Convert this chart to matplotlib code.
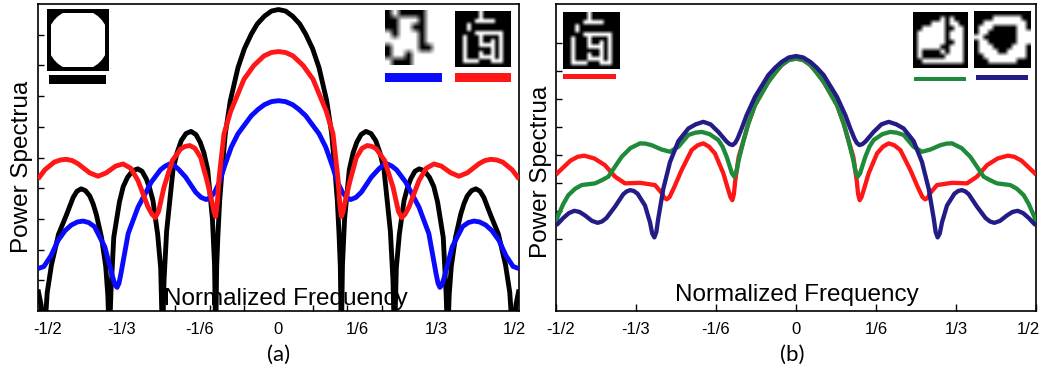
import matplotlib.pyplot as plt
import numpy as np
from matplotlib.patches import Circle, Rectangle
from matplotlib.transforms import ScaledTranslation

W, H = 1043, 368

# ---- panel (a): normalized frequency / power spectrum (tick units) ----
freq_a_black_l = [-0.5095, -0.503, -0.4968, -0.490, -0.481, -0.466, -0.450, -0.435, -0.427, -0.418,
                  -0.409, -0.400, -0.393, -0.386, -0.375, -0.366, -0.3615, -0.3585, -0.355, -0.349,
                  -0.337, -0.329, -0.320, -0.309, -0.298, -0.289, -0.280, -0.273, -0.266, -0.256,
                  -0.2496, -0.2457, -0.2425, -0.237, -0.2235, -0.215, -0.206, -0.196, -0.1854, -0.175,
                  -0.166, -0.158, -0.150, -0.140, -0.1355, -0.1331, -0.131, -0.1282, -0.1246, -0.119,
                  -0.1127, -0.1021, -0.0858, -0.0721, -0.0576, -0.045, -0.030, -0.015, 0.0]
power_a_black_l = [0.7, 0.2, -1, 0.6, 1.5, 2.5, 3.1, 3.7, 3.9, 3.98,
                   3.92, 3.75, 3.5, 3.15, 2.4, 1.45, 0.5, -1, 0.6, 2.4,
                   3.55, 4.05, 4.35, 4.57, 4.63, 4.55, 4.3, 4.0, 3.6, 2.5,
                   1.4, -1, 1.0, 2.6, 4.6, 5.15, 5.55, 5.78, 5.85, 5.75,
                   5.5, 5.15, 4.6, 3.0, 1.5, -1, 1.44, 2.52, 3.6, 4.69,
                   5.77, 6.85, 7.93, 8.55, 9.02, 9.35, 9.6, 9.77, 9.82]
freq_a_black_r = [0.015, 0.030, 0.045, 0.0576, 0.0721, 0.0858, 0.1021, 0.1127, 0.119, 0.1246,
                  0.1282, 0.131, 0.1331, 0.1355, 0.140, 0.150, 0.158, 0.166, 0.175, 0.1854,
                  0.196, 0.206, 0.215, 0.2235, 0.237, 0.2425, 0.2457, 0.2496, 0.256, 0.266,
                  0.273, 0.280, 0.289, 0.298, 0.309, 0.320, 0.329, 0.337, 0.349, 0.355,
                  0.3585, 0.3615, 0.366, 0.375, 0.386, 0.393, 0.400, 0.409, 0.418, 0.427,
                  0.435, 0.450, 0.466, 0.481, 0.490, 0.4968, 0.503, 0.5095]
power_a_black_r = [9.77, 9.6, 9.35, 9.02, 8.55, 7.93, 6.85, 5.77, 4.69, 3.6,
                   2.52, 1.44, -1, 1.5, 3.0, 4.6, 5.15, 5.5, 5.75, 5.85,
                   5.78, 5.55, 5.15, 4.6, 2.6, 1.0, -1, 1.4, 2.5, 3.6,
                   4.0, 4.3, 4.55, 4.63, 4.57, 4.35, 4.05, 3.55, 2.4, 0.6,
                   -1, 0.5, 1.45, 2.4, 3.15, 3.5, 3.75, 3.92, 3.98, 3.9,
                   3.7, 3.1, 2.5, 1.5, 0.6, -1, 0.2, 0.7]

freq_a_blue_l = [-0.5095, -0.497, -0.482, -0.467, -0.452, -0.439, -0.426, -0.414, -0.402, -0.39,
                 -0.368, -0.3505, -0.346, -0.342, -0.338, -0.334, -0.3185, -0.2977, -0.2694, -0.25,
                 -0.24, -0.2305, -0.221, -0.212, -0.1967, -0.1755, -0.164, -0.153, -0.144, -0.1353,
                 -0.125, -0.1136, -0.1, -0.086, -0.0576, -0.043, -0.03, -0.015, 0.0]
power_a_blue_l = [1.38, 1.45, 1.8, 2.3, 2.62, 2.8, 2.9, 2.93, 2.88, 2.75,
                  2.09, 1.06, 0.85, 0.77, 0.9, 1.2, 2.52, 3.38, 4.2, 4.6,
                  4.72, 4.79, 4.74, 4.62, 4.36, 3.87, 3.7, 3.63, 3.7, 3.87,
                  4.2, 4.75, 5.34, 5.77, 6.36, 6.57, 6.72, 6.82, 6.85]
freq_a_blue_r = [0.015, 0.03, 0.043, 0.0576, 0.086, 0.1, 0.1136, 0.125, 0.1353, 0.144,
                 0.153, 0.164, 0.1755, 0.1967, 0.212, 0.221, 0.2305, 0.24, 0.25, 0.2694,
                 0.2977, 0.3185, 0.334, 0.338, 0.342, 0.346, 0.3505, 0.368, 0.39, 0.402,
                 0.414, 0.426, 0.439, 0.452, 0.467, 0.482, 0.497, 0.5095]
power_a_blue_r = [6.82, 6.72, 6.57, 6.36, 5.77, 5.34, 4.75, 4.2, 3.87, 3.7,
                  3.63, 3.7, 3.87, 4.36, 4.62, 4.74, 4.79, 4.72, 4.6, 4.2,
                  3.38, 2.52, 1.2, 0.9, 0.77, 0.85, 1.06, 2.09, 2.75, 2.88,
                  2.93, 2.9, 2.8, 2.62, 2.3, 1.8, 1.45, 1.38]

freq_a_red_l = [-0.5095, -0.495, -0.475, -0.462, -0.4496, -0.437, -0.425, -0.40, -0.3824, -0.365,
                -0.345, -0.3294, -0.313, -0.2977, -0.2765, -0.268, -0.261, -0.254, -0.2425, -0.2249,
                -0.2072, -0.198, -0.188, -0.177, -0.1649, -0.1508, -0.1402, -0.1365, -0.1331, -0.1297,
                -0.1261, -0.1155, -0.1014, -0.0731, -0.052, -0.0307, -0.015, 0.0]
power_a_red_l = [4.3, 4.6, 4.85, 4.92, 4.94, 4.9, 4.8, 4.5, 4.39, 4.5,
                 4.72, 4.79, 4.65, 4.25, 3.39, 3.15, 3.04, 3.25, 4.04, 4.9,
                 5.28, 5.36, 5.39, 5.3, 5.0, 4.2, 3.5, 3.22, 3.08, 3.5,
                 4.3, 5.77, 6.5, 7.55, 8.0, 8.31, 8.42, 8.45]
freq_a_red_r = [0.015, 0.0307, 0.052, 0.0731, 0.1014, 0.1155, 0.1261, 0.1297, 0.1331, 0.1365,
                0.1402, 0.1508, 0.1649, 0.177, 0.188, 0.198, 0.2072, 0.2249, 0.2425, 0.254,
                0.261, 0.268, 0.2765, 0.2977, 0.313, 0.3294, 0.345, 0.365, 0.3824, 0.40,
                0.425, 0.437, 0.4496, 0.462, 0.475, 0.495, 0.5095]
power_a_red_r = [8.42, 8.31, 8.0, 7.55, 6.5, 5.77, 4.3, 3.5, 3.08, 3.22,
                 3.5, 4.2, 5.0, 5.3, 5.39, 5.36, 5.28, 4.9, 4.04, 3.25,
                 3.04, 3.15, 3.39, 4.25, 4.65, 4.79, 4.72, 4.5, 4.39, 4.5,
                 4.8, 4.9, 4.94, 4.92, 4.85, 4.6, 4.3]

# ---- panel (b) ----
freq_b_navy_l = [-0.5, -0.4965, -0.485, -0.473, -0.4618, -0.451, -0.44, -0.425, -0.4132, -0.404,
                 -0.395, -0.377, -0.36, -0.353, -0.3458, -0.338, -0.33, -0.3146, -0.3042, -0.2995,
                 -0.2951, -0.291, -0.2868, -0.2764, -0.2625, -0.2451, -0.2243, -0.209, -0.1931, -0.178,
                 -0.1618, -0.1444, -0.138, -0.132, -0.1265, -0.1215, -0.1132, -0.1028, -0.0854, -0.0576,
                 -0.043, -0.0299, -0.015, 0.0]
power_b_navy_l = [2.5, 2.54, 2.75, 2.93, 3.01, 2.97, 2.85, 2.65, 2.58, 2.63,
                  2.75, 3.16, 3.6, 3.7, 3.75, 3.72, 3.62, 3.2, 2.6, 2.2,
                  2.06, 2.25, 2.75, 3.8, 4.75, 5.5, 5.95, 6.1, 6.19, 6.1,
                  5.83, 5.48, 5.39, 5.36, 5.44, 5.6, 5.95, 6.43, 7.08, 7.86,
                  8.13, 8.33, 8.49, 8.54]
freq_b_navy_r = [0.015, 0.0299, 0.043, 0.0576, 0.0854, 0.1028, 0.1132, 0.1215, 0.1265, 0.132,
                 0.138, 0.1444, 0.1618, 0.178, 0.1931, 0.209, 0.2243, 0.2451, 0.2625, 0.2764,
                 0.2868, 0.291, 0.2951, 0.2995, 0.3042, 0.3146, 0.33, 0.338, 0.3458, 0.353,
                 0.36, 0.377, 0.395, 0.404, 0.4132, 0.425, 0.44, 0.451, 0.4618, 0.473,
                 0.485, 0.4965, 0.5]
power_b_navy_r = [8.49, 8.33, 8.13, 7.86, 7.08, 6.43, 5.95, 5.6, 5.44, 5.36,
                  5.39, 5.48, 5.83, 6.1, 6.19, 6.1, 5.95, 5.5, 4.75, 3.8,
                  2.75, 2.25, 2.06, 2.2, 2.6, 3.2, 3.62, 3.72, 3.75, 3.7,
                  3.6, 3.16, 2.75, 2.63, 2.58, 2.65, 2.85, 2.97, 3.01, 2.93,
                  2.75, 2.54, 2.5]

freq_b_green_l = [-0.5, -0.4965, -0.485, -0.4743, -0.46, -0.4465, -0.4188, -0.405, -0.391, -0.3632,
                  -0.345, -0.325, -0.313, -0.30, -0.28, -0.2625, -0.245, -0.2243, -0.21, -0.1965,
                  -0.18, -0.1618, -0.153, -0.1444, -0.1335, -0.1285, -0.1235, -0.1194, -0.109, -0.0993,
                  -0.0854, -0.0576, -0.043, -0.0299, -0.015, 0.0]
power_b_green_l = [2.6, 2.8, 3.25, 3.57, 3.8, 3.93, 3.99, 4.1, 4.23, 4.94,
                   5.25, 5.42, 5.41, 5.35, 5.2, 5.12, 5.3, 5.72, 5.8, 5.83,
                   5.75, 5.54, 5.3, 4.94, 4.35, 4.23, 4.45, 4.82, 5.54, 6.13,
                   6.79, 7.62, 7.95, 8.22, 8.4, 8.45]
freq_b_green_r = [0.015, 0.0299, 0.043, 0.0576, 0.0854, 0.0993, 0.109, 0.1194, 0.1235, 0.1285,
                  0.1335, 0.1444, 0.153, 0.1618, 0.18, 0.1965, 0.21, 0.2243, 0.245, 0.2625,
                  0.28, 0.30, 0.313, 0.325, 0.345, 0.3632, 0.391, 0.405, 0.4188, 0.4465,
                  0.46, 0.4743, 0.485, 0.4965, 0.5]
power_b_green_r = [8.4, 8.22, 7.95, 7.62, 6.79, 6.13, 5.54, 4.82, 4.45, 4.23,
                   4.35, 4.94, 5.3, 5.54, 5.75, 5.83, 5.8, 5.72, 5.3, 5.12,
                   5.2, 5.35, 5.41, 5.42, 5.25, 4.94, 4.23, 4.1, 3.99, 3.93,
                   3.8, 3.57, 3.25, 2.8, 2.6]

freq_b_red_l = [-0.5, -0.4965, -0.47, -0.455, -0.441, -0.42, -0.3979, -0.377, -0.3562, -0.325,
                -0.2938, -0.28, -0.2745, -0.2694, -0.2635, -0.2538, -0.2382, -0.2174, -0.205, -0.1931,
                -0.181, -0.1688, -0.1514, -0.141, -0.1365, -0.1326, -0.1295, -0.1264, -0.1194, -0.109,
                -0.0993, -0.0854, -0.0576, -0.043, -0.0299, -0.015, 0.0]
power_b_red_l = [4.3, 4.37, 4.8, 4.94, 4.98, 4.88, 4.64, 4.23, 3.99, 4.01,
                 3.93, 3.65, 3.48, 3.42, 3.5, 3.85, 4.47, 5.18, 5.35, 5.42,
                 5.3, 5.06, 4.35, 3.75, 3.5, 3.39, 3.6, 4.11, 4.94, 5.54,
                 6.13, 6.79, 7.62, 7.95, 8.22, 8.4, 8.45]
freq_b_red_r = [0.015, 0.0299, 0.043, 0.0576, 0.0854, 0.0993, 0.109, 0.1194, 0.1264, 0.1295,
                0.1326, 0.1365, 0.141, 0.1514, 0.1688, 0.181, 0.1931, 0.205, 0.2174, 0.2382,
                0.2538, 0.2635, 0.2694, 0.2745, 0.28, 0.2938, 0.325, 0.3562, 0.377, 0.3979,
                0.42, 0.441, 0.455, 0.47, 0.4965, 0.5]
power_b_red_r = [8.4, 8.22, 7.95, 7.62, 6.79, 6.13, 5.54, 4.94, 4.11, 3.6,
                 3.39, 3.5, 3.75, 4.35, 5.06, 5.3, 5.42, 5.35, 5.18, 4.47,
                 3.85, 3.5, 3.42, 3.48, 3.65, 3.93, 4.01, 3.99, 4.23, 4.64,
                 4.88, 4.98, 4.94, 4.8, 4.37, 4.3]

tick_pos = [-1 / 2, -1 / 3, -1 / 6, 0, 1 / 6, 1 / 3, 1 / 2]
tick_labels = ["-1/2", "-1/3", "-1/6", "0", "1/6", "1/3", "1/2"]
minor_a = [-0.219, -0.146, -0.073, 0, 0.073, 0.146, 0.219]

# small aperture images shown in the insets (# = white)
img_blocks = [
    ".#....##",
    "..###.##",
    "..##..##",
    "#.###.##",
    "#####.##",
    ".####..#",
    ".##.####",
    "#...####",
]
img_glyph = [
    "......#.......",
    "......#.......",
    ".....#####....",
    "...#..........",
    "...#..........",
    ".....#######..",
    "..#...#....#..",
    "..#...#..#.#..",
    "..#...####.#..",
    "..#......#.#..",
    "..#...#..#.#..",
    "..#...####.#..",
    "..####...###..",
    "..............",
]
img_step = [
    "............",
    "......#.#...",
    "....###.##..",
    "..#####..##.",
    ".######.###.",
    ".######.###.",
    ".######..##.",
    ".#####..###.",
    ".#....#.###.",
    ".#.....####.",
    "..#########.",
    "............",
]
img_ring = [
    "............",
    "....######..",
    "..#########.",
    ".###.....##.",
    ".##......###",
    "##.......###",
    ".##......###",
    ".###....###.",
    ".####..####.",
    "..#########.",
    "...######...",
    "............",
]

BLUE, RED, GREEN, NAVY = "#0a0aff", "#ff1616", "#1f8a3a", "#231c86"

plt.rcParams["font.family"] = ["Liberation Sans", "DejaVu Sans"]


def fig_box(x0, y0, x1, y1):
    return [x0 / W, 1 - y1 / H, (x1 - x0) / W, (y1 - y0) / H]


def add_bar(fig, x0, y0, x1, y1, color):
    b = fig_box(x0, y0, x1, y1)
    fig.add_artist(Rectangle((b[0], b[1]), b[2], b[3], transform=fig.transFigure,
                             color=color, lw=0))


def add_image(fig, rows, box, interp="bilinear"):
    arr = np.array([[1.0 if c == "#" else 0.0 for c in r] for r in rows])
    ax = fig.add_axes(fig_box(*box))
    ax.imshow(arr, cmap="gray", vmin=0, vmax=1, interpolation=interp, aspect="auto")
    ax.axis("off")


def shift_label(fig, label, dx):
    label.set_transform(label.get_transform() + ScaledTranslation(dx / 100, 0, fig.dpi_scale_trans))


fig = plt.figure(figsize=(W / 100, H / 100), dpi=100)
ax_a = fig.add_axes(fig_box(38, 4, 519, 311))
ax_b = fig.add_axes(fig_box(556, 4, 1036, 311))

lw = 3.5
kw = dict(solid_joinstyle="round", solid_capstyle="butt")
ax_a.plot(freq_a_black_l + freq_a_black_r, power_a_black_l + power_a_black_r,
          color="black", lw=lw, zorder=3, **kw)
ax_a.plot(freq_a_blue_l + freq_a_blue_r, power_a_blue_l + power_a_blue_r,
          color=BLUE, lw=lw, zorder=4, **kw)
ax_a.plot(freq_a_red_l + freq_a_red_r, power_a_red_l + power_a_red_r,
          color=RED, lw=lw, zorder=5, **kw)
ax_a.set_xlim(-0.5095, 0.5095)
ax_a.set_ylim(0, 10)
ax_a.set_yticks(range(1, 10))
ax_a.set_xticks(tick_pos, tick_labels)
ax_a.set_xticks(minor_a, minor=True)
ax_a.tick_params(axis="x", which="major", length=0, pad=8, labelsize=12)
ax_a.tick_params(axis="x", which="minor", direction="in", length=4, width=1)
ax_a.text(286 / W, 1 - 305 / H, "Normalized Frequency", transform=fig.transFigure,
          ha="center", va="baseline", fontsize=17.5, zorder=1)

lw_b = 3.1
ax_b.plot(freq_b_red_l + freq_b_red_r, power_b_red_l + power_b_red_r,
          color=RED, lw=lw_b, zorder=3, **kw)
ax_b.plot(freq_b_green_l + freq_b_green_r, power_b_green_l + power_b_green_r,
          color=GREEN, lw=lw_b, zorder=4, **kw)
ax_b.plot(freq_b_navy_l + freq_b_navy_r, power_b_navy_l + power_b_navy_r,
          color=NAVY, lw=lw_b, zorder=5, **kw)
ax_b.set_xlim(-0.5, 0.5)
ax_b.set_ylim(-0.57, 10.4)
ax_b.set_yticks(range(2, 10))
ax_b.set_xticks(tick_pos, tick_labels)
ax_b.tick_params(axis="x", direction="in", length=5, width=1, pad=8, labelsize=12)
ax_b.text(797 / W, 1 - 301 / H, "Normalized Frequency", transform=fig.transFigure,
          ha="center", va="baseline", fontsize=17.5, zorder=1)

for ax in (ax_a, ax_b):
    ax.set_yticklabels([])
    ax.tick_params(axis="y", direction="in", length=4, width=1)
    for s in ax.spines.values():
        s.set_linewidth(1.2)

labels_a = ax_a.get_xticklabels()
shift_label(fig, labels_a[0], 5)
labels_b = ax_b.get_xticklabels()
shift_label(fig, labels_b[0], 5)
shift_label(fig, labels_b[-1], -8)

fig.text(22 / W, 1 - 167 / H, "Power Spectrua", rotation=90, ha="center", va="center", fontsize=17.5)
fig.text(541 / W, 1 - 172 / H, "Power Spectrua", rotation=90, ha="center", va="center", fontsize=17.5)
fig.text(279 / W, 1 - 355 / H, "(a)", ha="center", va="center", fontsize=16, family=["Lato", "DejaVu Sans"])
fig.text(792 / W, 1 - 355 / H, "(b)", ha="center", va="center", fontsize=16, family=["Lato", "DejaVu Sans"])

# circular aperture inset (black square, white rounded disk)
ax_c = fig.add_axes(fig_box(47, 9, 109, 71))
ax_c.set_facecolor("black")
ax_c.set_xlim(0, 1)
ax_c.set_ylim(0, 1)
clip = Rectangle((0.06, 0.06), 0.88, 0.88, transform=ax_c.transData)
disk = Circle((0.5, 0.5), 0.5, color="white", lw=0)
ax_c.add_patch(disk)
disk.set_clip_path(clip)
ax_c.set_xticks([])
ax_c.set_yticks([])
for s in ax_c.spines.values():
    s.set_visible(False)
add_bar(fig, 49, 75, 106, 84, "black")

add_image(fig, img_blocks, (385, 10, 439, 65))
add_bar(fig, 385, 73, 442, 82, BLUE)
add_image(fig, img_glyph, (455, 11, 511, 67))
add_bar(fig, 455, 73, 511, 82, RED)

add_image(fig, img_glyph, (563, 12, 619, 69))
add_bar(fig, 563, 74, 616, 79, RED)
add_image(fig, img_step, (913, 12, 968, 68))
add_bar(fig, 914, 77, 966, 81, GREEN)
add_image(fig, img_ring, (974, 11, 1031, 68))
add_bar(fig, 976, 75, 1028, 80, NAVY)

fig.savefig("out.png", dpi=100)
plt.close(fig)
